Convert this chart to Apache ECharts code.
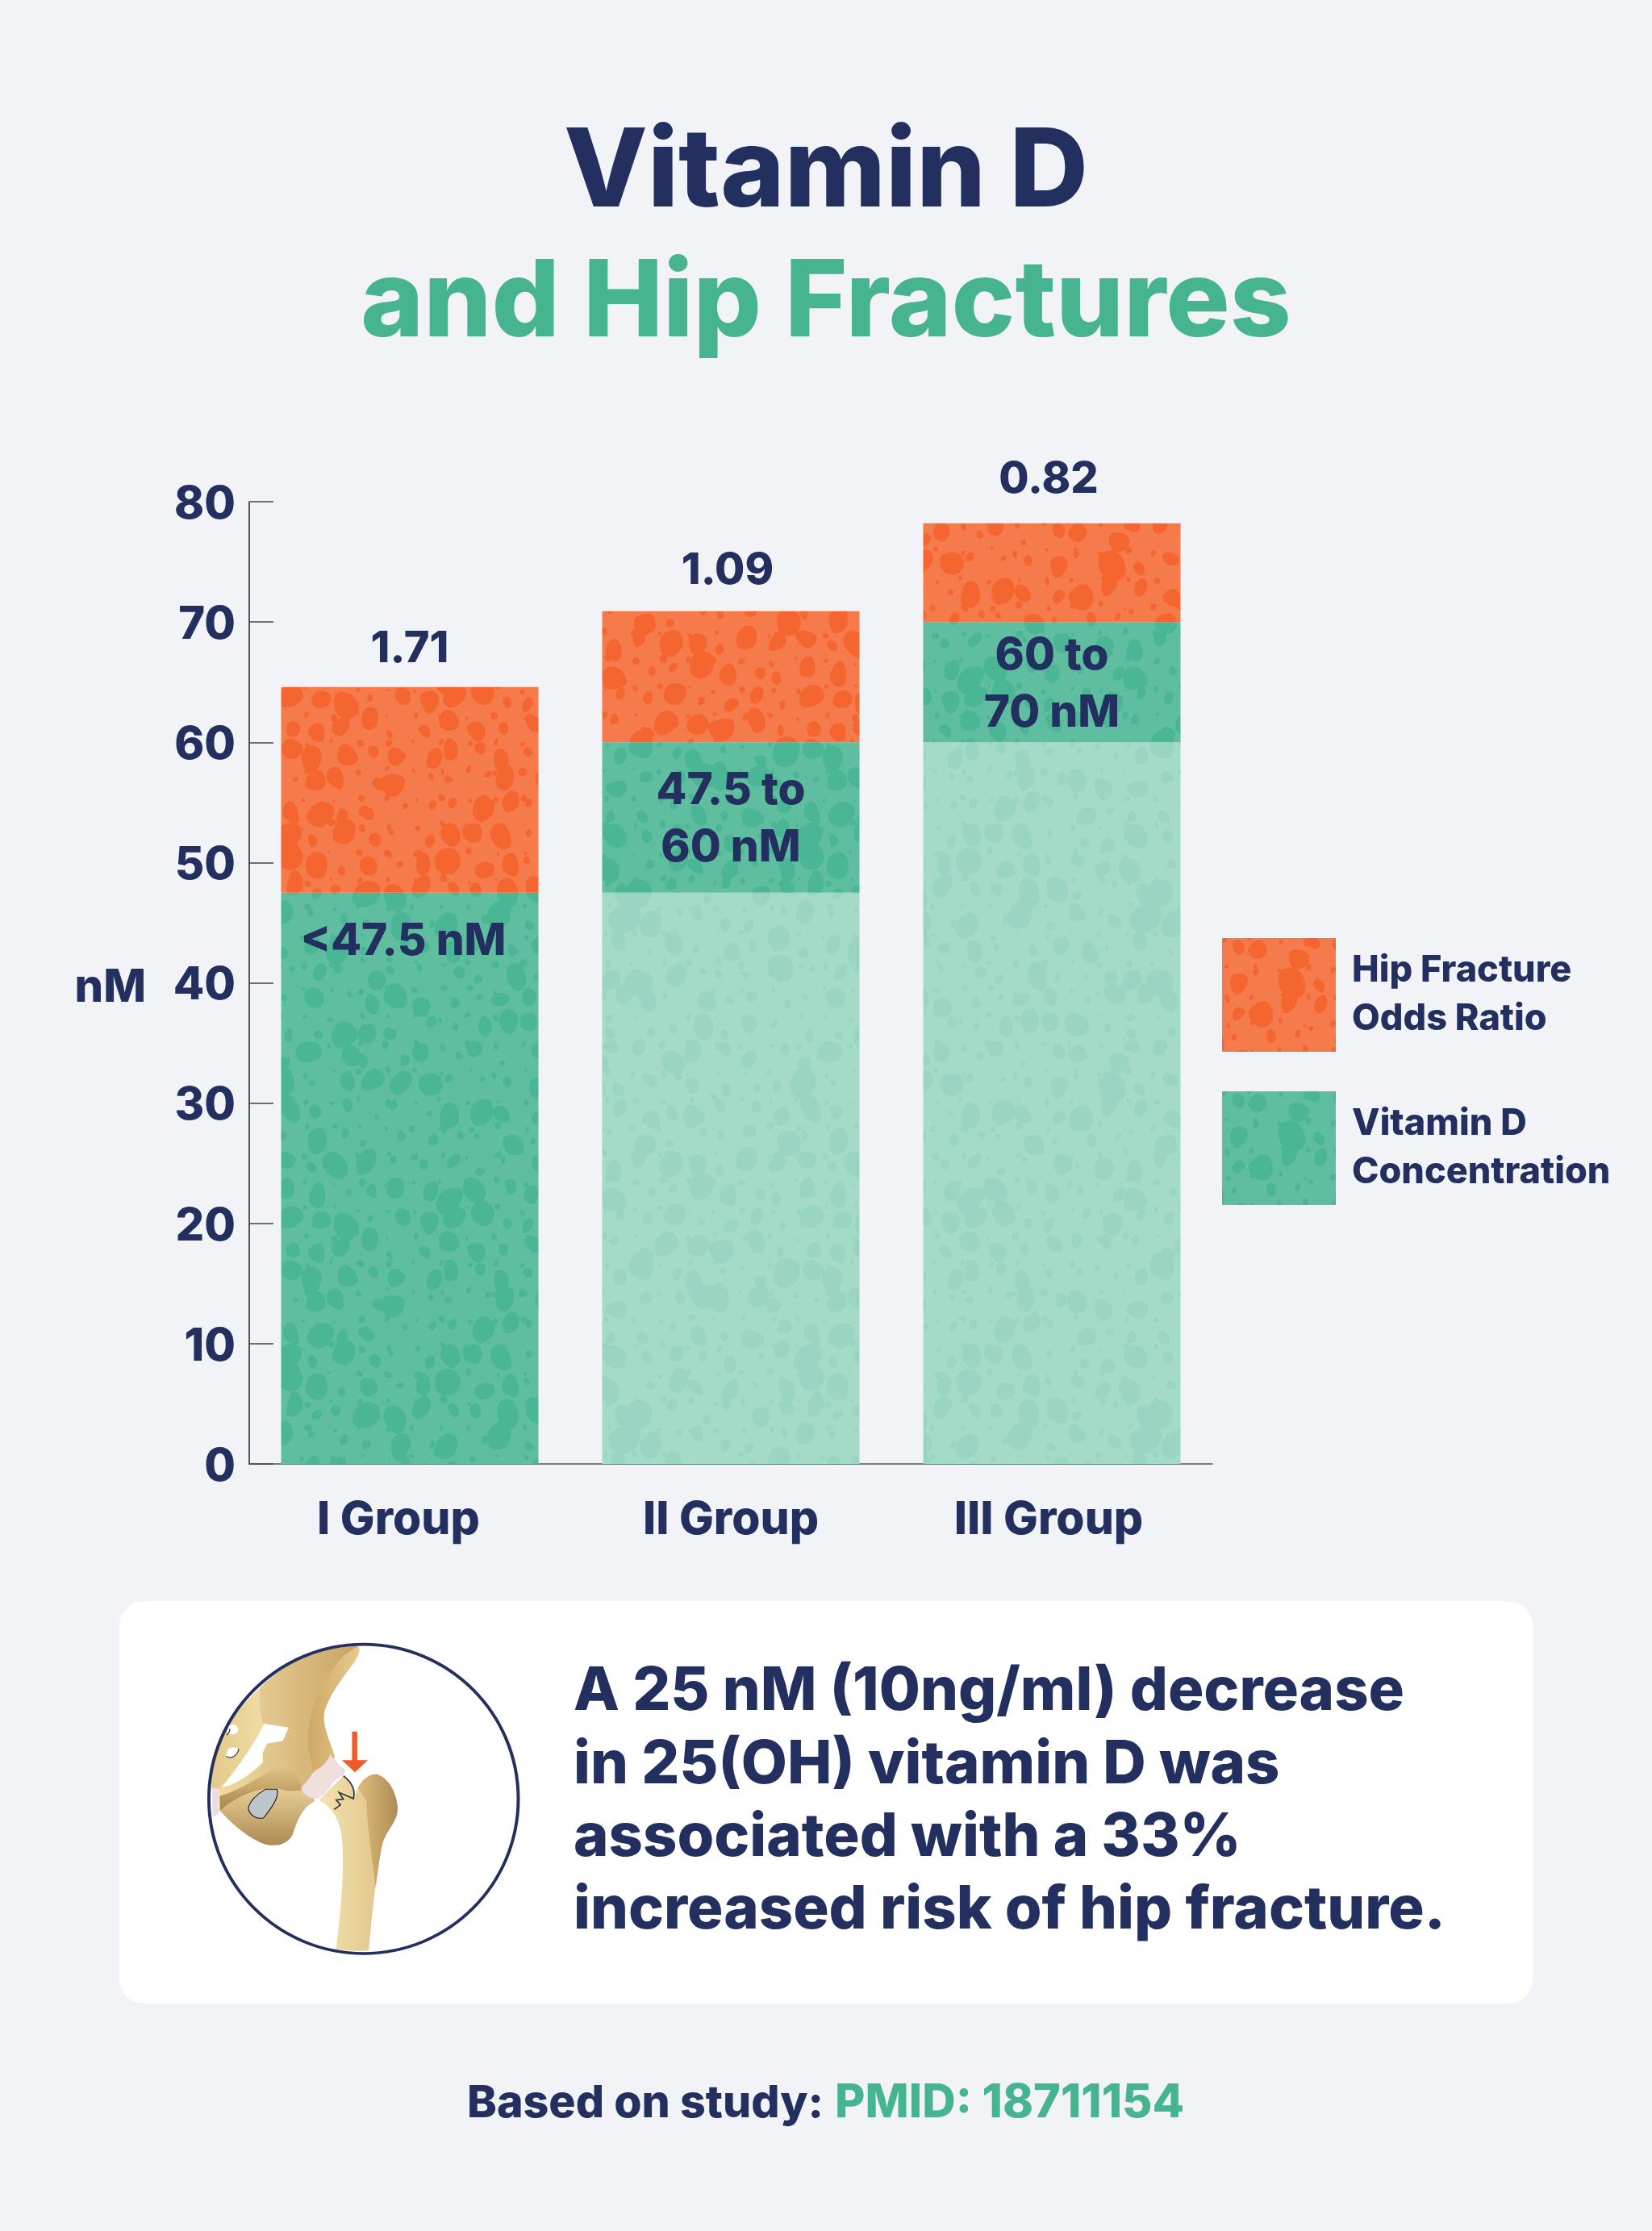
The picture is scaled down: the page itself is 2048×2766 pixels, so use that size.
<!DOCTYPE html>
<html><head><meta charset="utf-8">
<style>html,body{margin:0;padding:0;background:#F2F3F6}#c{width:2048px;height:2766px}</style>
<script src="https://cdn.jsdelivr.net/npm/echarts@6/dist/echarts.min.js"></script>
</head><body><div id="c"></div>
<script>
const categories = ['I Group', 'II Group', 'III Group'];
const lowerRange = [0, 47.5, 60];
const concentration = [47.5, 12.5, 10];
const oddsBar = [17.1, 10.9, 8.2];
const oddsLabels = ['1.71', '1.09', '0.82'];
const rangeLabels = ['<47.5 nM', '47.5 to\n60 nM', '60 to\n70 nM'];
const yTicks = [0, 10, 20, 30, 40, 50, 60, 70, 80];
const bodyLines = ['A 25 nM (10ng/ml) decrease', 'in 25(OH) vitamin D was', 'associated with a 33%', 'increased risk of hip fracture.'];

const NAVY = '#232F5E', GREEN = '#46B48F', FF = 'Inter', W = 800;

function texture(base, spot) {
  const S = 646, cell = 34, cv = document.createElement('canvas');
  cv.width = cv.height = S;
  const g = cv.getContext('2d');
  g.fillStyle = base; g.fillRect(0, 0, S, S);
  g.fillStyle = spot;
  let seed = 987;
  const rnd = () => (seed = (seed * 1664525 + 1013904223) % 4294967296) / 4294967296;
  const blob = (cx, cy, r) => {
    const n = 6, a0 = rnd() * 6.28, stretch = 0.66 + rnd() * 0.4, tilt = rnd() * 1.6 - 0.8, pts = [];
    for (let i = 0; i < n; i++) {
      const a = a0 + i / n * 6.283, q = r * (0.75 + rnd() * 0.5);
      const x = Math.cos(a) * q * stretch, y = Math.sin(a) * q;
      pts.push([x + y * tilt * 0.3, y]);
    }
    for (const ox of [-S, 0, S]) for (const oy of [-S, 0, S]) {
      if (cx + ox < -40 || cx + ox > S + 40 || cy + oy < -40 || cy + oy > S + 40) continue;
      g.beginPath();
      for (let i = 0; i < n; i++) {
        const p = pts[i], q = pts[(i + 1) % n];
        const mx = (p[0] + q[0]) / 2 + cx + ox, my = (p[1] + q[1]) / 2 + cy + oy;
        if (i === 0) g.moveTo(mx, my);
        else g.quadraticCurveTo(p[0] + cx + ox, p[1] + cy + oy, mx, my);
      }
      const p0 = pts[0], p1 = pts[1];
      g.quadraticCurveTo(p0[0] + cx + ox, p0[1] + cy + oy, (p0[0] + p1[0]) / 2 + cx + ox, (p0[1] + p1[1]) / 2 + cy + oy);
      g.closePath(); g.fill();
    }
  };
  for (let i = 0; i < S / cell; i++) for (let j = 0; j < S / cell; j++) {
    const big = rnd();
    const r = big < 0.45 ? 13 + rnd() * 7 : 4 + rnd() * 7;
    blob(i * cell + 17 + (rnd() - .5) * 20, j * cell + 17 + (rnd() - .5) * 20, r);
    blob(i * cell + rnd() * 8, j * cell + rnd() * 8, 2 + rnd() * 3.5);
  }
  return { image: cv, repeat: 'repeat' };
}
const orangeFill = texture('#F57A4C', '#F4652F');
const greenFill = texture('#5FBE9F', '#4AB695');
const lightFill = texture('#A3DAC8', '#99D5C2');

const shapes = {
  pubis: 'M512 365C450 430 395 490 370 560C345 640 340 700 345 745L372 745C420 680 480 600 525 500Z',
  ischium: 'M372 825C400 860 470 930 530 950C570 960 610 950 625 910C640 860 660 810 700 790L690 750L650 745C620 755 590 750 570 740C500 740 430 770 372 825Z',
  ilium: 'M850 212C862 225 850 250 835 275C790 340 740 410 732 470C730 520 755 570 770 625L700 740C650 755 600 755 570 742C530 735 470 745 420 775L370 830L368 740C420 730 470 700 520 645L520 610L535 575L590 565L610 515L520 500C510 450 505 420 512 365C600 270 720 215 850 212Z',
  iliumShade: 'M850 212C862 225 850 250 835 275C790 340 740 410 732 470C730 520 755 570 770 625L700 700C690 640 670 590 680 520C690 430 730 330 790 260C810 240 830 225 850 212Z',
  ramus: 'M372 825L370 770C440 750 520 690 590 650C640 680 650 720 660 748C620 755 590 750 570 740C500 740 430 770 372 825Z',
  obturator: 'M530 745L570 745C578 770 555 810 522 852C490 858 470 832 470 812C480 780 505 760 530 745Z',
  holeA: 'M400 515C410 495 435 505 435 525C430 545 405 545 397 535Z',
  holeB: 'M400 595C415 585 438 590 437 605C430 625 405 632 392 622Z',
  cartilage: 'M755 615C770 640 785 660 803 670C808 690 790 695 765 715C745 745 735 770 700 780C670 775 650 755 655 735C680 715 690 680 710 670C730 660 745 640 755 615Z',
  symphysis: 'M345 742L368 742L368 830L358 845L345 845Z',
  femur: 'M715 785C760 810 790 860 795 930C805 1050 790 1200 775 1340C810 1346 850 1348 888 1345C900 1200 915 1050 935 950C950 890 990 870 988 810C985 770 965 710 920 690C890 685 865 710 850 740L838 780C842 750 830 720 800 695Z',
  femurShade: 'M850 740C865 710 890 685 920 690C965 710 985 770 988 810C990 870 950 890 935 950C925 1000 920 1050 912 1110C900 1000 880 860 880 790Z',
  fracture: 'M768 820L790 803L775 785L800 782L785 757L835 780C842 750 830 720 800 695',
  arrow: 'M830 530L848 530L848 637L885 637L840 682L795 637L830 637Z',
  mark: 'M405 520C408 528 400 540 395 543M393 622C410 635 432 620 437 595'
};
Object.keys(shapes).forEach(k => echarts.graphic.registerShape('hip_' + k, echarts.graphic.extendPath(shapes[k], {})));
const LG = (a, b, h) => new echarts.graphic.LinearGradient(0, 0, h ? 1 : 0, h ? 0 : 1, [{ offset: 0, color: a }, { offset: 1, color: b }]);
const piece = (k, style) => ({ type: 'hip_' + k, style });

const txt = (text, x, y, size, fill, align) => ({ type: 'text', x, y, style: { text, font: W + ' ' + size + 'px ' + FF, fill, textAlign: align || 'center', textVerticalAlign: 'middle' } });

const valueNudge = [[0, 2], [-4, -1], [-4, -5]];

const chart = echarts.init(document.getElementById('c'), null, { renderer: 'canvas', width: 2048, height: 2766 });
const axisFont = { fontFamily: FF, fontWeight: W, color: NAVY };
chart.setOption({
  backgroundColor: '#F2F3F6',
  animation: false,
  grid: { left: 309, top: 622, width: 1194, height: 1193 },
  xAxis: {
    type: 'category',
    data: categories.map((c, i) => ({ value: c, textStyle: { padding: [0, [28, 0, 8][i], 0, 0] } })),
    axisLine: { lineStyle: { color: '#555', width: 1.5 } }, axisTick: { show: false },
    axisLabel: { ...axisFont, fontSize: 57, margin: 41 }
  },
  yAxis: {
    type: 'value', min: 0, max: 80, interval: 10,
    name: 'nM', nameLocation: 'middle', nameRotate: 0, nameGap: 128,
    nameTextStyle: { ...axisFont, fontSize: 56, verticalAlign: 'top', lineHeight: 14 },
    splitLine: { show: false },
    axisLine: { show: true, lineStyle: { color: '#222', width: 1.5 } },
    axisTick: { show: true, inside: true, length: 30, lineStyle: { color: '#444', width: 1.5 } },
    axisLabel: { ...axisFont, fontSize: 56, margin: 17, verticalAlign: 'top', lineHeight: 8, formatter: v => yTicks.includes(v) ? String(v) : '' }
  },
  legend: {
    left: 1510, top: 1158, orient: 'vertical', itemWidth: 141, itemHeight: 141, itemGap: 49,
    selectedMode: false, icon: 'rect',
    data: ['Hip Fracture Odds Ratio', 'Vitamin D Concentration'],
    formatter: n => n === 'Hip Fracture Odds Ratio' ? 'Hip Fracture\nOdds Ratio' : 'Vitamin D\nConcentration',
    textStyle: { ...axisFont, fontSize: 45, lineHeight: 60, padding: [0, 0, 0, 15] }
  },
  series: [
    { name: 'Vitamin D Lower Range', type: 'bar', stack: 'total', barWidth: 319, data: lowerRange, itemStyle: { color: lightFill }, silent: true },
    {
      name: 'Vitamin D Concentration', type: 'bar', stack: 'total', barWidth: 319, itemStyle: { color: greenFill },
      data: concentration.map((v, i) => ({ value: v, label: i === 0 ? { position: 'insideTop', distance: 25, offset: [-8, 0] } : { position: 'inside', offset: [0, 3] } })),
      label: { show: true, ...axisFont, fontSize: 55, lineHeight: 71, formatter: p => rangeLabels[p.dataIndex] }
    },
    {
      name: 'Hip Fracture Odds Ratio', type: 'bar', stack: 'total', barWidth: 319, itemStyle: { color: orangeFill },
      data: oddsBar.map((v, i) => ({ value: v, label: { offset: valueNudge[i] } })),
      label: { show: true, position: 'top', distance: 22, ...axisFont, fontSize: 54, formatter: p => oddsLabels[p.dataIndex] }
    }
  ],
  graphic: [
    { type: 'rect', z: -1, shape: { x: 148, y: 1985, width: 1752, height: 499, r: 30 }, style: { fill: '#FFFFFF' } },
    txt('Vitamin D', 1024, 215, 135, NAVY),
    txt('and Hip Fractures', 1024, 377, 132.5, GREEN),
    ...bodyLines.map((l, i) => txt(l, 711, 2098 + i * 90.4, 74, NAVY, 'left')),
    {
      type: 'text', x: 579, y: 2608,
      style: { text: 'Based on study: ', font: W + ' 55.5px ' + FF, fill: NAVY, textVerticalAlign: 'middle' }
    },
    {
      type: 'text', x: 1035, y: 2608,
      style: { text: 'PMID: 18711154', font: W + ' 57.5px ' + FF, fill: GREEN, textVerticalAlign: 'middle' }
    },
    {
      type: 'group', x: 140, y: 1970, scaleX: 1 / 2.8, scaleY: 1 / 3,
      children: [
        piece('pubis', { fill: LG('#E3C98A', '#F1DDA6', true) }),
        piece('ischium', { fill: LG('#E6CF96', '#AE8A52') }),
        piece('ilium', { fill: LG('#F0DBA4', '#C9A262', true) }),
        piece('iliumShade', { fill: LG('#CFA866', '#E6CB8E', true) }),
        piece('ramus', { fill: LG('#E3C78A', '#A98449') }),
        piece('obturator', { fill: '#BEC6CB', stroke: '#111', lineWidth: 3 }),
        piece('holeA', { fill: '#FFFFFF' }),
        piece('holeB', { fill: '#FFFFFF' }),
        piece('mark', { fill: null, stroke: '#111', lineWidth: 3 }),
        piece('symphysis', { fill: '#EEDDE0' }),
        piece('femur', { fill: LG('#F3E2B0', '#DDBE80', true) }),
        piece('femurShade', { fill: LG('#DDBD7E', '#B08C55', true) }),
        piece('cartilage', { fill: '#EFE0DE', stroke: '#DCC7C6', lineWidth: 2 }),
        piece('fracture', { fill: null, stroke: '#33343C', lineWidth: 5 }),
        piece('arrow', { fill: '#F05A28' }),
        { type: 'ellipse', shape: { cx: 870, cy: 781, rx: 537, ry: 575 }, style: { fill: null, stroke: NAVY, lineWidth: 11 } }
      ]
    }
  ]
});
</script></body></html>
